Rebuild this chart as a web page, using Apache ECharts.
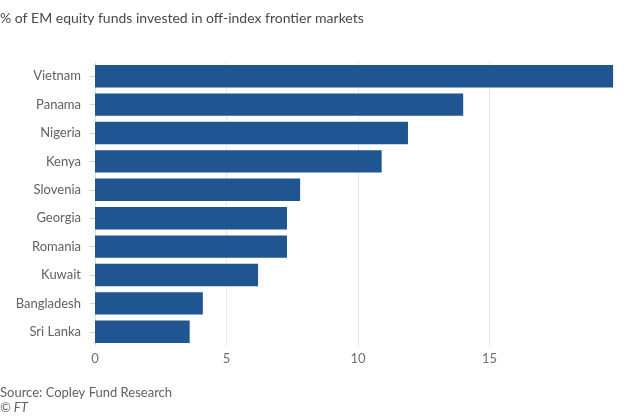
<!DOCTYPE html>
<html><head><meta charset="utf-8">
<script src="https://cdn.jsdelivr.net/npm/echarts@6/dist/echarts.min.js"></script>
<style>html,body{margin:0;padding:0;background:#fff}#c{width:630px;height:416px}</style>
</head><body><div id="c"></div>
<script>
var categories = ['Vietnam','Panama','Nigeria','Kenya','Slovenia','Georgia','Romania','Kuwait','Bangladesh','Sri Lanka'];
var values = [19.7, 14.0, 11.9, 10.9, 7.8, 7.3, 7.3, 6.2, 4.1, 3.6];
var xTicks = [0, 5, 10, 15];
var titleText = '% of EM equity funds invested in off-index frontier markets';
var sourceText = 'Source: Copley Fund Research';
var creditText = '\u00a9 FT';

var font = 'Lato, "Noto Sans", sans-serif';
var chart = echarts.init(document.getElementById('c'), null, {renderer:'canvas'});
chart.setOption({
  backgroundColor: '#fff',
  animation: false,
  grid: {left: 95, right: 9, top: 62, bottom: 70, containLabel: false},
  graphic: [
    {type:'text', left: 0, top: 11, style:{text: titleText, font: '14px ' + font, fill:'#4d4845'}},
    {type:'text', left: 0, top: 386, style:{text: sourceText, font: '13px ' + font, fill:'#66605c'}},
    {type:'text', left: 0, top: 401, style:{text: creditText, font: 'italic 13px ' + font, fill:'#66605c'}}
  ],
  xAxis: {
    type: 'value', min: 0, max: 20, interval: 5,
    axisLine: {show: false}, axisTick: {show: false},
    axisLabel: {color: '#76706b', fontSize: 13, fontFamily: font, margin: 6, showMaxLabel: false,
      formatter: function(v){ return xTicks.indexOf(v) >= 0 ? String(v) : ''; }},
    splitLine: {show: true, showMaxLine: false, lineStyle: {color: '#ece8e2', width: 1}}
  },
  yAxis: {
    type: 'category', data: categories, inverse: true,
    axisLine: {show: true, lineStyle: {color: '#e2ddd6', width: 1}},
    axisTick: {show: true, alignWithLabel: true, length: 5, lineStyle: {color: '#d6d1ca'}},
    axisLabel: {color: '#66605c', fontSize: 13, fontFamily: font, margin: 14}
  },
  series: [{
    type: 'bar', data: values, barCategoryGap: '21%',
    itemStyle: {color: '#1f5591'}
  }]
});
</script></body></html>
